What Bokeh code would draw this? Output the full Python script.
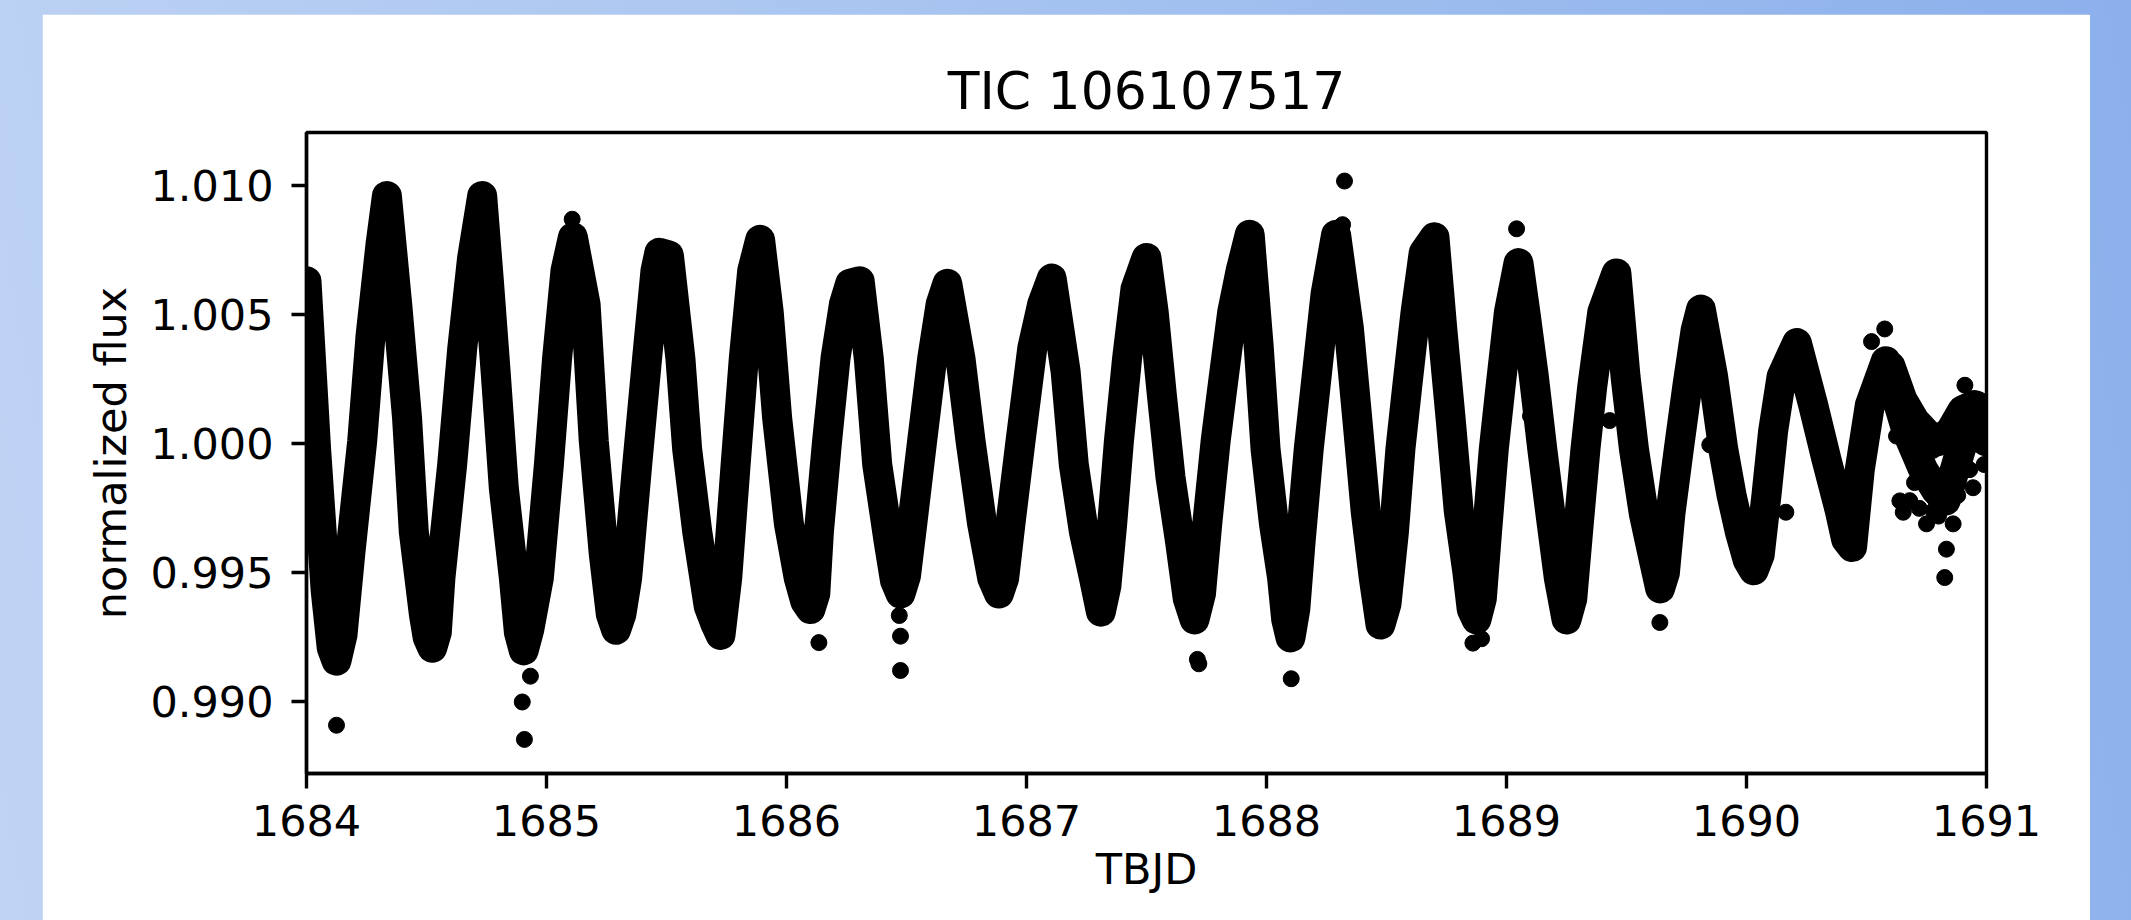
from bokeh.plotting import figure
from bokeh.models import FixedTicker, PrintfTickFormatter, Range1d, ColumnDataSource
from bokeh.embed import file_html
from bokeh.resources import INLINE

# ---- data ----
title_text = "TIC 106107517"
x_label = "TBJD"
y_label = "normalized flux"
x_ticks = [1684, 1685, 1686, 1687, 1688, 1689, 1690, 1691]
y_ticks = [0.990, 0.995, 1.000, 1.005, 1.010]

# main light-curve track (time in TBJD, normalized flux)
time = [
    1684.000, 1684.040, 1684.080, 1684.105, 1684.125, 1684.150, 1684.183, 1684.232, 1684.267, 1684.308,
    1684.335, 1684.378, 1684.419, 1684.447, 1684.489, 1684.505, 1684.524, 1684.543, 1684.558, 1684.607,
    1684.649, 1684.690, 1684.732, 1684.760, 1684.788, 1684.822, 1684.864, 1684.885, 1684.905, 1684.928,
    1684.968, 1685.010, 1685.044, 1685.079, 1685.110, 1685.163, 1685.197, 1685.239, 1685.268, 1685.290,
    1685.312, 1685.336, 1685.378, 1685.419, 1685.454, 1685.470, 1685.510, 1685.558, 1685.586, 1685.628,
    1685.676, 1685.705, 1685.725, 1685.753, 1685.788, 1685.822, 1685.857, 1685.890, 1685.926, 1685.961,
    1686.010, 1686.051, 1686.078, 1686.100, 1686.120, 1686.135, 1686.169, 1686.204, 1686.239, 1686.265,
    1686.305, 1686.343, 1686.378, 1686.426, 1686.452, 1686.475, 1686.498, 1686.524, 1686.565, 1686.607,
    1686.642, 1686.670, 1686.725, 1686.767, 1686.815, 1686.857, 1686.885, 1686.907, 1686.933, 1686.975,
    1687.024, 1687.065, 1687.105, 1687.163, 1687.197, 1687.239, 1687.281, 1687.310, 1687.333, 1687.357,
    1687.385, 1687.419, 1687.454, 1687.500, 1687.530, 1687.565, 1687.600, 1687.640, 1687.672, 1687.700,
    1687.727, 1687.753, 1687.788, 1687.822, 1687.857, 1687.892, 1687.930, 1687.968, 1687.996, 1688.031,
    1688.065, 1688.082, 1688.100, 1688.120, 1688.142, 1688.176, 1688.211, 1688.246, 1688.290, 1688.343,
    1688.378, 1688.413, 1688.447, 1688.475, 1688.500, 1688.531, 1688.558, 1688.586, 1688.621, 1688.655,
    1688.700, 1688.732, 1688.767, 1688.801, 1688.836, 1688.855, 1688.875, 1688.897, 1688.919, 1688.947,
    1688.975, 1689.010, 1689.050, 1689.080, 1689.114, 1689.149, 1689.183, 1689.218, 1689.250, 1689.274,
    1689.301, 1689.329, 1689.357, 1689.399, 1689.458, 1689.496, 1689.531, 1689.572, 1689.614, 1689.640,
    1689.660, 1689.683, 1689.718, 1689.753, 1689.788, 1689.810, 1689.861, 1689.903, 1689.938, 1689.972,
    1690.005, 1690.030, 1690.055, 1690.083, 1690.111, 1690.146, 1690.210, 1690.278, 1690.333, 1690.389,
    1690.415, 1690.440, 1690.472, 1690.514, 1690.580, 1690.667, 1690.736, 1690.790, 1690.830, 1690.903,
    1690.958, 1690.997,
]
flux = [
    1.0063, 0.9998, 0.9943, 0.9921, 0.9916, 0.9926, 0.9958, 1.0001, 1.0042, 1.0077,
    1.0096, 1.0054, 1.0010, 0.9966, 0.9934, 0.9925, 0.9921, 0.9927, 0.9948, 0.9992,
    1.0037, 1.0072, 1.0096, 1.0063, 1.0028, 0.9983, 0.9948, 0.9927, 0.9920, 0.9928,
    0.9948, 0.9992, 1.0033, 1.0067, 1.0080, 1.0054, 1.0001, 0.9957, 0.9934, 0.9928,
    0.9934, 0.9948, 0.9992, 1.0033, 1.0067, 1.0074, 1.0073, 1.0033, 0.9998, 0.9966,
    0.9937, 0.9930, 0.9926, 0.9948, 0.9992, 1.0033, 1.0067, 1.0079, 1.0051, 1.0010,
    0.9969, 0.9948, 0.9939, 0.9936, 0.9942, 0.9966, 1.0001, 1.0033, 1.0054, 1.0062,
    1.0063, 1.0033, 0.9992, 0.9962, 0.9947, 0.9942, 0.9949, 0.9969, 1.0001, 1.0033,
    1.0054, 1.0062, 1.0033, 1.0001, 0.9969, 0.9948, 0.9942, 0.9948, 0.9969, 1.0001,
    1.0037, 1.0054, 1.0064, 1.0028, 0.9992, 0.9966, 0.9948, 0.9935, 0.9945, 0.9969,
    1.0001, 1.0033, 1.0060, 1.0072, 1.0051, 1.0018, 0.9987, 0.9962, 0.9940, 0.9932,
    0.9942, 0.9969, 1.0001, 1.0026, 1.0051, 1.0067, 1.0081, 1.0037, 0.9998, 0.9969,
    0.9948, 0.9932, 0.9925, 0.9936, 0.9962, 0.9998, 1.0028, 1.0058, 1.0081, 1.0045,
    1.0010, 0.9974, 0.9948, 0.9930, 0.9938, 0.9966, 0.9998, 1.0022, 1.0051, 1.0074,
    1.0080, 1.0045, 1.0010, 0.9974, 0.9951, 0.9936, 0.9932, 0.9940, 0.9966, 0.9998,
    1.0022, 1.0051, 1.0070, 1.0050, 1.0026, 0.9998, 0.9973, 0.9948, 0.9932, 0.9940,
    0.9969, 0.9998, 1.0022, 1.0051, 1.0066, 1.0026, 0.9998, 0.9973, 0.9955, 0.9944,
    0.9950, 0.9973, 0.9998, 1.0022, 1.0044, 1.0052, 1.0026, 0.9998, 0.9980, 0.9966,
    0.9955, 0.9951, 0.9957, 0.9980, 1.0005, 1.0026, 1.0039, 1.0015, 0.9994, 0.9974,
    0.9963, 0.9960, 0.9990, 1.0015, 1.0032, 1.0005, 0.9990, 0.9982, 0.9978, 1.0001,
    1.0005, 1.0001,
]

# upper edge of the noisy band at the end of the series
edge_time = [1690.600, 1690.650, 1690.700, 1690.750, 1690.800, 1690.850, 1690.900, 1690.950, 1690.995]
edge_flux = [1.0030, 1.0017, 1.0009, 1.0004, 1.0001, 1.0005, 1.0013, 1.0015, 1.0013]

# isolated points standing out of the track
out_time = [
    1684.125, 1684.899, 1684.908, 1684.933, 1685.107, 1686.135, 1686.475, 1686.475, 1686.470, 1687.712,
    1687.718, 1688.103, 1688.325, 1688.317, 1688.860, 1688.896, 1689.042, 1689.100, 1689.430, 1689.639,
    1689.847, 1690.164, 1690.521, 1690.576, 1690.639, 1690.653, 1690.750, 1690.826, 1690.833, 1690.910,
    1690.625, 1690.708, 1690.778, 1690.889, 1690.944, 1690.986, 1690.917, 1690.778, 1690.861,
    1690.620, 1690.660, 1690.700, 1690.740, 1690.800, 1690.850, 1690.870, 1690.930, 1690.970, 1690.990,
    1690.680, 1690.720, 1690.800, 1690.880,
]
out_flux = [
    0.9891, 0.9900, 0.98855, 0.9910, 1.0087, 0.9923, 0.99255, 0.99122, 0.99335, 0.99165,
    0.99148, 0.9909, 1.01018, 1.00849, 0.99228, 0.99245, 1.00833, 1.00108, 1.0009, 0.99308,
    0.99996, 0.99735, 1.00396, 1.00445, 0.99779, 0.99735, 0.9969, 0.99482, 0.99592, 1.00227,
    1.0003, 1.0012, 0.99975, 0.9990, 0.9983, 1.0010, 1.0015, 0.9974, 0.9969,
    1.0018, 1.0014, 0.9985, 1.0006, 1.0002, 0.9990, 1.0012, 0.9990, 1.0017, 0.9992,
    0.9978, 0.9975, 0.9972, 0.9980,
]

FONT = "DejaVu Sans"

p = figure(
    width=2048, height=906,
    output_backend="svg", toolbar_location=None,
    x_range=Range1d(1684, 1691), y_range=Range1d(0.98723, 1.01206),
    min_border_left=264, min_border_right=104, min_border_top=118, min_border_bottom=147,
    title=title_text,
)
p.background_fill_color = "white"
p.border_fill_color = "white"
p.outline_line_color = "black"
p.outline_line_width = 3.4
p.xgrid.visible = False
p.ygrid.visible = False

p.title.align = "center"
p.title.text_font = FONT
p.title.text_font_size = "52px"
p.title.text_font_style = "normal"
p.title.text_color = "black"
p.title.standoff = 24

for ax in (p.xaxis[0], p.yaxis[0]):
    ax.axis_line_color = "black"
    ax.axis_line_width = 3.4
    ax.major_tick_line_color = "black"
    ax.major_tick_line_width = 3.4
    ax.major_tick_out = 15
    ax.major_tick_in = 0
    ax.minor_tick_line_color = None
    ax.major_label_text_font = FONT
    ax.major_label_text_font_size = "43px"
    ax.major_label_text_color = "black"
    ax.axis_label_text_font = FONT
    ax.axis_label_text_font_size = "43px"
    ax.axis_label_text_font_style = "normal"
    ax.axis_label_text_color = "black"

p.xaxis[0].ticker = FixedTicker(ticks=x_ticks)
p.xaxis[0].formatter = PrintfTickFormatter(format="%d")
p.xaxis[0].major_label_standoff = 16
p.xaxis[0].axis_label = x_label
p.xaxis[0].axis_label_standoff = 5

p.yaxis[0].ticker = FixedTicker(ticks=y_ticks)
p.yaxis[0].formatter = PrintfTickFormatter(format="%.3f")
p.yaxis[0].major_label_standoff = 18
p.yaxis[0].axis_label = y_label
p.yaxis[0].axis_label_standoff = 11

src = ColumnDataSource(data=dict(t=time, f=flux))
p.line("t", "f", source=src, line_color="black", line_width=30,
       line_join="round", line_cap="round")
p.scatter("t", "f", source=src, size=16, fill_color="black", line_color="black")
p.line(edge_time, edge_flux, line_color="black", line_width=30,
       line_join="round", line_cap="round")
p.scatter(out_time, out_flux, size=16, fill_color="black", line_color="black")

html = file_html(p, INLINE)
page_css = (
    "<style>html{margin:0;padding:0;height:100%;"
    "background:linear-gradient(80deg,#bfd3f4 0%,#a9c5f0 45%,#8cb0ec 100%);}"
    "body{margin:0 !important;padding:14px 0 0 42px !important;overflow:hidden;background:transparent;}"
    "</style>"
)
html = html.replace("</head>", page_css + "</head>", 1)
open("out.html", "w").write(html)
